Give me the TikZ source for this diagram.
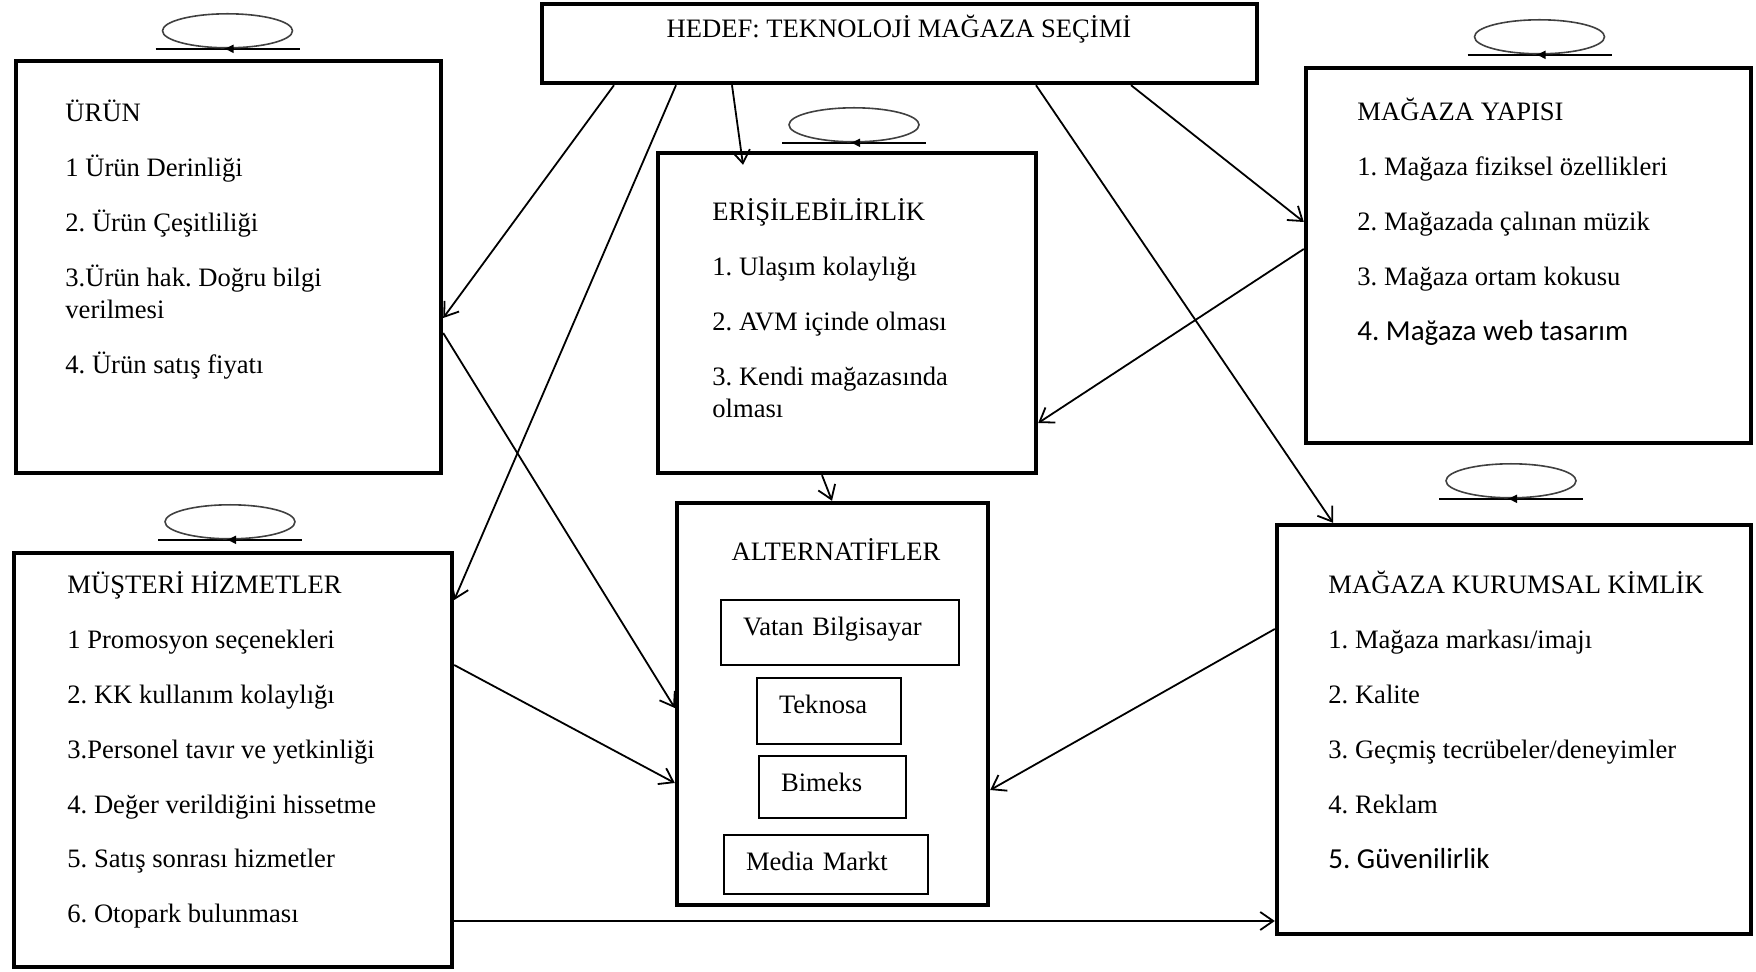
\documentclass[tikz,border=0pt]{standalone}
\usepackage{fontspec}
\setmainfont{Liberation Serif}
\newfontfamily\calibri{Carlito}
\frenchspacing
\usetikzlibrary{calc, fit, arrows.meta}
\tikzset{>={Straight Barb[length=6.5pt,width=9pt]}}
\tikzset{
  box/.style={draw, line width=2.2pt, inner sep=0pt},
  altbox/.style={draw, line width=1pt, anchor=north west, inner xsep=11pt, inner ysep=0pt, text height=17.5pt, align=left},
  txt/.style={anchor=north west, align=left, inner sep=0pt},
  arr/.style={->, line width=0.9pt},
  loopln/.style={line width=0.8pt}
}
% small loop drawn over a box: node, x offset, height of the line
\newcommand{\loopmark}[3]{%
  \begin{scope}[shift={($(#1.north)+(#2,#3)$)}]
    \draw[loopln] (-72,0) -- (72,0);
    \draw[loopln, black!75] (0,18) ellipse [x radius=65, y radius=17];
    \draw[-{Latex[length=5pt,width=4.5pt]}, line width=0.8pt] (6,0) -- (-4,0);
  \end{scope}}

\begin{document}
\begin{tikzpicture}[x=0.5pt, y=0.5pt, font=\fontsize{13.3}{16}\selectfont]
\useasboundingbox (0,0) rectangle (1756,-972);

% boxes
\node[box, fit={(542,-4) (1257,-83)}] (goal) {};
\node[box, fit={(16,-61) (441,-473)}] (urun) {};
\node[box, fit={(658,-153) (1036,-473)}] (erisim) {};
\node[box, fit={(1306,-68) (1751,-443)}] (yapi) {};
\node[box, fit={(677,-503) (988,-905)}] (alt) {};
\node[box, fit={(14,-553) (452,-967)}] (musteri) {};
\node[box, fit={(1277,-525) (1751,-934)}] (kurumsal) {};

% texts
\node[txt, anchor=base] (goal-t) at (899,-38) {HEDEF: TEKNOLOJİ MAĞAZA SEÇİMİ};
\node[txt] (urun-t) at (65,-99) {\strut ÜRÜN\\[11.5pt]
  1 Ürün Derinliği\\[11.5pt]
  2. Ürün Çeşitliliği\\[11.5pt]
  3.Ürün hak. Doğru bilgi\\
  verilmesi\\[11.5pt]
  4. Ürün satış fiyatı};
\node[txt] (erisim-t) at (712,-198) {\strut ERİŞİLEBİLİRLİK\\[11.5pt]
  1. Ulaşım kolaylığı\\[11.5pt]
  2. AVM içinde olması\\[11.5pt]
  3. Kendi mağazasında\\
  olması};
\node[txt] (yapi-t) at (1357,-98) {\strut MAĞAZA YAPISI\\[11.5pt]
  1. Mağaza fiziksel özellikleri\\[11.5pt]
  2. Mağazada çalınan müzik\\[11.5pt]
  3. Mağaza ortam kokusu\\[11.5pt]
  {\calibri\fontsize{14.5}{16}\selectfont 4. Mağaza web tasarım}};
\node[txt] (musteri-t) at (67,-571) {\strut MÜŞTERİ HİZMETLER\\[11.4pt]
  1 Promosyon seçenekleri\\[11.4pt]
  2. KK kullanım kolaylığı\\[11.4pt]
  3.Personel tavır ve yetkinliği\\[11.4pt]
  4. Değer verildiğini hissetme\\[11.4pt]
  5. Satış sonrası hizmetler\\[11.4pt]
  6. Otopark bulunması};
\node[txt] (kurumsal-t) at (1328,-571) {\strut MAĞAZA KURUMSAL KİMLİK\\[11.5pt]
  1. Mağaza markası/imajı\\[11.5pt]
  2. Kalite\\[11.5pt]
  3. Geçmiş tecrübeler/deneyimler\\[11.5pt]
  4. Reklam\\[11.5pt]
  {\calibri\fontsize{14.5}{16}\selectfont 5. Güvenilirlik}};

% alternatives
\node[txt, anchor=base] (alt-t) at (836,-561) {ALTERNATİFLER};
\node[altbox, text width=97pt, text depth=15pt] (vatan) at (720,-599) {Vatan Bilgisayar};
\node[altbox, text width=50pt, text depth=15.5pt] (teknosa) at (756,-677) {Teknosa};
\node[altbox, text width=51.5pt, text depth=13.5pt] (bimeks) at (758,-755) {Bimeks};
\node[altbox, text width=80pt, text depth=12pt] (media) at (723,-834) {Media Markt};

% loops
\loopmark{urun}{-1}{10}
\loopmark{erisim}{7}{8}
\loopmark{yapi}{11}{11}
\loopmark{kurumsal}{-3}{24}
\loopmark{musteri}{-3}{11}

% arrows
\path[arr]
(goal.south -| 614,0) edge (urun.east |- 0,-318)
(goal.south -| 676,0) edge (musteri.east |- 0,-600)
(goal.south -| 732,0) edge ($(erisim.north -| 743,0)+(0,-14)$)
(goal.south -| 1036,0) edge (kurumsal.north -| 1333,0)
(goal.south -| 1131,0) edge (yapi.west |- 0,-222);
\path[arr]
(urun.east |- 0,-333) edge (alt.west |- 0,-708)
(musteri.east |- 0,-665) edge (alt.west |- 0,-783)
(musteri.east |- 0,-921) edge (kurumsal.west |- 0,-921)
(yapi.west |- 0,-249) edge (erisim.east |- 0,-423)
(kurumsal.west |- 0,-629) edge (alt.east |- 0,-790)
(erisim.south -| 822,0) edge (alt.north -| 832,0);
\end{tikzpicture}
\end{document}
